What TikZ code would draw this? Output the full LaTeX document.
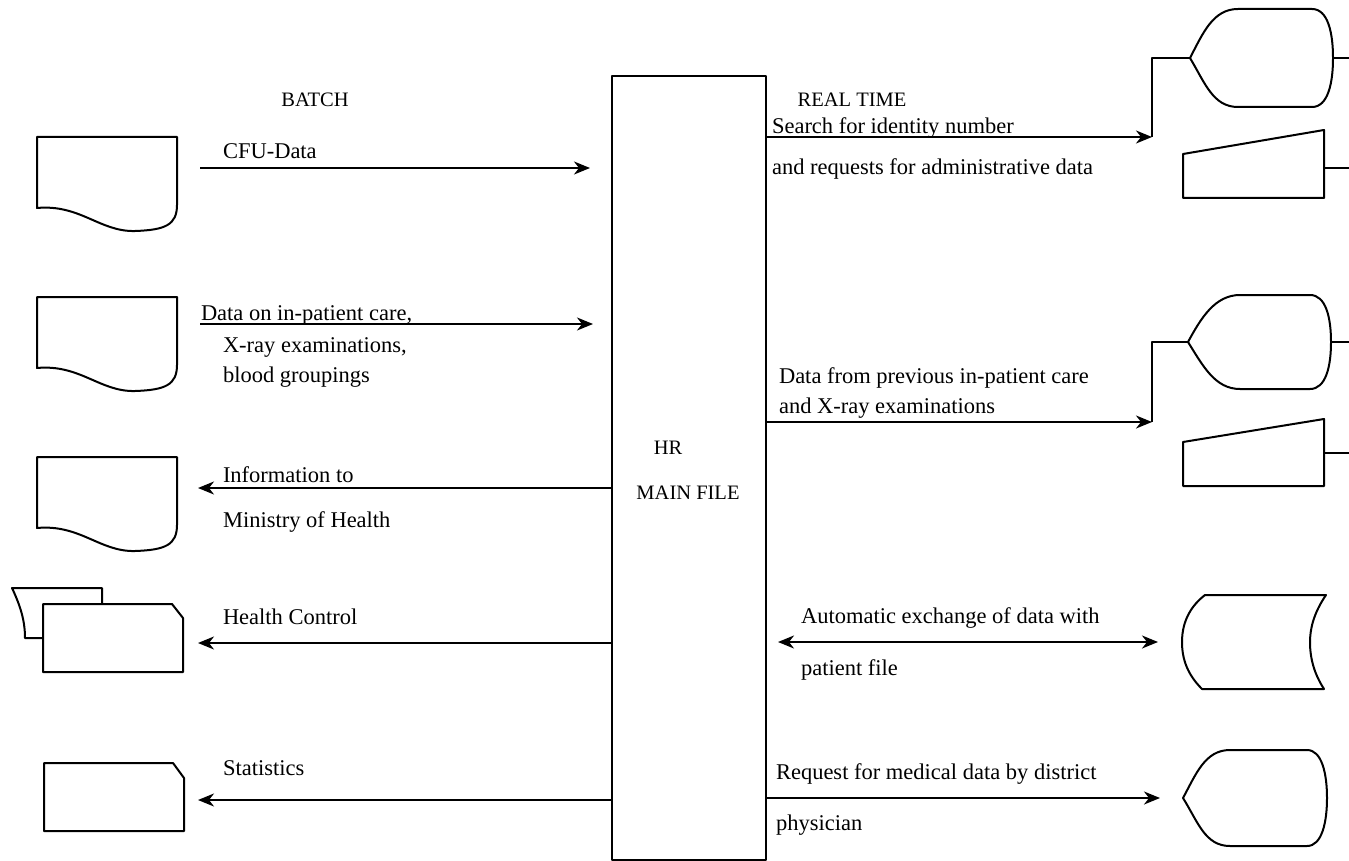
\documentclass[tikz,border=0pt]{standalone}
\usepackage{fontspec}
\setmainfont{Liberation Serif}
\usetikzlibrary{arrows.meta}
\begin{document}
\begin{tikzpicture}[x=1pt,y=-1pt,
  every path/.style={line width=2pt, line join=round},
  shp/.style={draw, line width=2pt},
  arr/.style={draw, line width=2pt, -{Stealth[length=16pt,width=13pt,inset=5pt]}},
  larr/.style={draw, line width=2pt, {Stealth[length=16pt,width=13pt,inset=5pt]}-{Stealth[length=16pt,width=13pt,inset=5pt]}},
  lbl/.style={anchor=base west, inner sep=0pt, font=\fontsize{22.5}{26}\selectfont},
  hdr/.style={inner sep=0pt, font=\fontsize{20.5}{24}\selectfont}]
\useasboundingbox[fill=white] (0,0) rectangle (1349,861);

% headers
\node[hdr] (batch) at (315,100) {BATCH};
\node[hdr] (rt) at (852,100) {REAL TIME};

% main file
\node[draw, line width=2pt, minimum width=154pt, minimum height=784pt, anchor=north west, inner sep=0pt] (main) at (611,75) {};
\node[hdr] (hr) at (668,448) {HR};
\node[hdr] (mf) at (688,493) {MAIN FILE};

% ---------- left: documents ----------
\draw[shp] (37,208) .. controls (80,204) and (100,232) .. (135,231) .. controls (165,230) and (177,225) .. (177,205) -- (177,137) -- (37,137) -- cycle;
\draw[shp] (37,368) .. controls (80,364) and (100,392) .. (135,391) .. controls (165,390) and (177,385) .. (177,365) -- (177,297) -- (37,297) -- cycle;
\draw[shp] (37,528) .. controls (80,524) and (100,552) .. (135,551) .. controls (165,550) and (177,545) .. (177,525) -- (177,457) -- (37,457) -- cycle;
% card stack
\draw[shp] (102,604) -- (102,588) -- (12,588) .. controls (20,605) and (25,620) .. (25,638) -- (43,638);
\draw[shp] (43,604) -- (172,604) -- (183,618) -- (183,672) -- (43,672) -- cycle;
% statistics card
\draw[shp] (44,763) -- (173,763) -- (184,778) -- (184,831) -- (44,831) -- cycle;

\coordinate (c1s) at (200,168);  \coordinate (c1e) at (590,168);
\coordinate (c2s) at (200,324);  \coordinate (c2e) at (593,324);
\coordinate (c3e) at (198,488);
\coordinate (c4e) at (198,643);
\coordinate (c5e) at (198,800);
\draw[arr] (c1s) -- (c1e);
\draw[arr] (c2s) -- (c2e);
\draw[arr] (main.west |- c3e) -- (c3e);
\draw[arr] (main.west |- c4e) -- (c4e);
\draw[arr] (main.west |- c5e) -- (c5e);

\node[lbl] (t1) at (222,159) {CFU-Data};
\node[lbl] (t2) at (200,320) {Data on in-patient care,};
\node[lbl] (t3) at (222,352) {X-ray examinations,};
\node[lbl] (t4) at (222,382) {blood groupings};
\node[lbl] (t5) at (222,482) {Information to};
\node[lbl] (t6) at (222,527) {Ministry of Health};
\node[lbl] (t7) at (222,624) {Health Control};
\node[lbl] (t8) at (222,775) {Statistics};

% ---------- right: terminals ----------
% display 1
\draw[shp] (1190,58) .. controls (1203,33) and (1213,9) .. (1238,9) -- (1312,9) .. controls (1328,9) and (1333,33) .. (1333,58) .. controls (1333,83) and (1328,107) .. (1312,107) -- (1238,107) .. controls (1213,107) and (1205,83) .. cycle;
% keyboard 1
\draw[shp] (1183,154) -- (1324,130) -- (1324,198) -- (1183,198) -- cycle;
% display 2
\draw[shp] (1188,342) .. controls (1201,318) and (1215,295) .. (1240,295) -- (1310,295) .. controls (1326,295) and (1331,318) .. (1331,342) .. controls (1331,366) and (1326,389) .. (1310,389) -- (1240,389) .. controls (1215,389) and (1203,366) .. cycle;
% keyboard 2
\draw[shp] (1183,442) -- (1324,419) -- (1324,486) -- (1183,486) -- cycle;
% disk
\draw[shp] (1205,595) -- (1326,595) .. controls (1313,614) and (1310,630) .. (1310,642) .. controls (1310,660) and (1315,675) .. (1324,689) -- (1202,689) .. controls (1188,675) and (1182,660) .. (1182,642) .. controls (1182,620) and (1192,605) .. cycle;
% display 3
\draw[shp] (1183,798) .. controls (1196,774) and (1205,750) .. (1230,750) -- (1307,750) .. controls (1322,750) and (1327,774) .. (1327,798) .. controls (1327,822) and (1322,846) .. (1307,846) -- (1230,846) .. controls (1205,846) and (1198,822) .. cycle;

% stubs to right edge
\coordinate (d1e) at (1333,58);  \coordinate (r1) at (1349,58);
\coordinate (k1e) at (1324,168); \coordinate (r2) at (1349,168);
\coordinate (d2e) at (1331,342); \coordinate (r3) at (1349,342);
\coordinate (k2e) at (1324,453); \coordinate (r4) at (1349,453);
\draw (d1e) -- (r1);
\draw (k1e) -- (r2);
\draw (d2e) -- (r3);
\draw (k2e) -- (r4);

% connectors
\coordinate (j1) at (1152,137);  \coordinate (d1w) at (1190,58);
\coordinate (j2) at (1152,422);  \coordinate (d2w) at (1188,342);
\coordinate (a3s) at (778,642);  \coordinate (a3e) at (1158,642);
\coordinate (a4e) at (1160,798);
\draw[arr] (main.east |- j1) -- (j1);
\draw (j1) |- (d1w);
\draw[arr] (main.east |- j2) -- (j2);
\draw (j2) |- (d2w);
\draw[larr] (a3s) -- (a3e);
\draw[arr] (main.east |- a4e) -- (a4e);

\node[lbl] (s1) at (771,134) {Search for identity number};
\node[lbl] (s2) at (771,175) {and requests for administrative data};
\node[lbl] (s3) at (778,383) {Data from previous in-patient care};
\node[lbl] (s4) at (778,413) {and X-ray examinations};
\node[lbl] (s5) at (800,623) {Automatic exchange of data with};
\node[lbl] (s6) at (800,675) {patient file};
\node[lbl] (s7) at (775,779) {Request for medical data by district};
\node[lbl] (s8) at (775,830) {physician};
\end{tikzpicture}
\end{document}
